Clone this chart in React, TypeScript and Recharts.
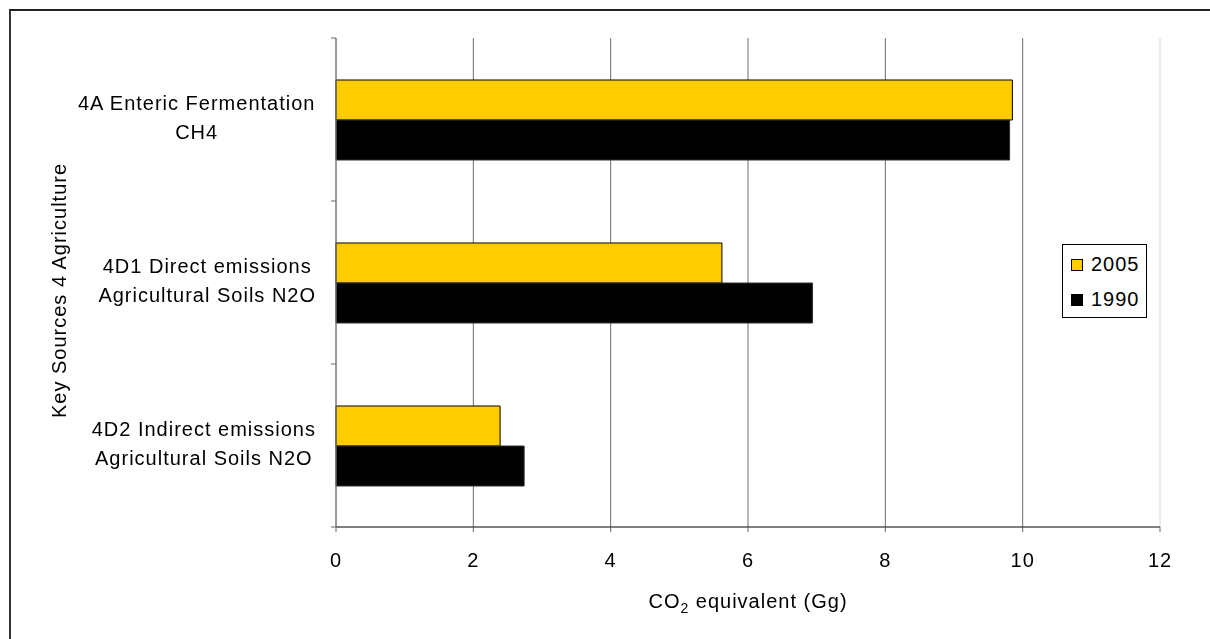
import { BarChart, Bar, XAxis, YAxis, CartesianGrid } from 'recharts';

// categories, top to bottom
const categories = ['4A', '4D1', '4D2'];
const categoryLines = [
    ['4A Enteric Fermentation', 'CH4'],
    ['4D1 Direct emissions', 'Agricultural Soils N2O'],
    ['4D2 Indirect emissions', 'Agricultural Soils N2O'],
];

// CO2 equivalent (Gg)
const values2005 = [9.85, 5.62, 2.39];
const values1990 = [9.81, 6.94, 2.74];

const xTicks = [0, 2, 4, 6, 8, 10, 12];

const seriesNames = ['2005', '1990'];
const seriesColors = ['#FFCC00', '#000000'];

const FONT = '"Liberation Sans", Arial, sans-serif';
const FONT_SIZE = 20;
const LS = 1;

const CHART_W = 1194;
const CHART_H = 623;
const Y_AXIS_W = 328;
const X_AXIS_H = 104;
const MARGIN = { top: 30, right: 42, bottom: 0, left: 0 };

const data = categories.map((c, i) => ({
    key: c,
    y2005: values2005[i],
    y1990: values1990[i],
}));

let measureCtx: CanvasRenderingContext2D | null = null;
function textWidth(s: string): number {
    if (!measureCtx) {
        measureCtx = document.createElement('canvas').getContext('2d');
    }
    if (!measureCtx) return s.length * FONT_SIZE * 0.55;
    measureCtx.font = `${FONT_SIZE}px "Liberation Sans"`;
    return measureCtx.measureText(s).width + s.length * LS;
}

function CategoryTick(props: any) {
    const { y, payload, index } = props;
    const axisX = MARGIN.left + Y_AXIS_W;
    const lines: string[] = categoryLines[index] ?? [String(payload.value)];
    const blockW = Math.max(...lines.map(textWidth));
    const cx = axisX - 20 - blockW / 2;
    const half = payload.offset ?? (CHART_H - MARGIN.top - X_AXIS_H) / categories.length / 2;
    const isLast = index === categories.length - 1;
    return (
        <g>
            <line x1={axisX - 5} x2={axisX} y1={y - half} y2={y - half} stroke="#666" />
            {isLast && <line x1={axisX - 5} x2={axisX} y1={y + half} y2={y + half} stroke="#666" />}
            {lines.map((l, i) => (
                <text
                    key={i}
                    x={cx}
                    y={y - 10 + i * 29}
                    textAnchor="middle"
                    fontFamily={FONT}
                    fontSize={FONT_SIZE}
                    letterSpacing={LS}
                    fill="#000"
                >
                    {l}
                </text>
            ))}
        </g>
    );
}

function XTitle(props: any) {
    const vb = props.viewBox;
    return (
        <text
            x={vb.x + vb.width / 2}
            y={vb.y + 81}
            textAnchor="middle"
            fontFamily={FONT}
            fontSize={FONT_SIZE}
            letterSpacing={LS}
            fill="#000"
        >
            CO
            <tspan dy={5} fontSize={14}>2</tspan>
            <tspan dy={-5}> equivalent (Gg)</tspan>
        </text>
    );
}

function YTitle(props: any) {
    const vb = props.viewBox;
    const x = 58;
    const y = vb.y + vb.height / 2 + 8;
    return (
        <text
            x={x}
            y={y}
            transform={`rotate(-90, ${x}, ${y})`}
            textAnchor="middle"
            fontFamily={FONT}
            fontSize={FONT_SIZE}
            letterSpacing={LS}
            fill="#000"
        >
            Key Sources 4 Agriculture
        </text>
    );
}

function GridLine(props: any) {
    const last = props.index === xTicks.length - 1;
    return (
        <line
            key={`v-${props.index}`}
            x1={props.x1}
            y1={props.y1}
            x2={props.x2}
            y2={props.y2}
            stroke={last ? '#d9d9d9' : '#6e6e6e'}
            strokeWidth={1}
        />
    );
}

export default function App() {
    return (
        <div style={{ position: 'relative', width: CHART_W, height: CHART_H }}>
            <div
                style={{
                    position: 'fixed',
                    left: 9,
                    top: 9,
                    right: -50,
                    bottom: -50,
                    borderLeft: '2px solid #333',
                    borderTop: '2px solid #222',
                    pointerEvents: 'none',
                }}
            />
            <BarChart
                width={CHART_W}
                height={CHART_H}
                data={data}
                layout="vertical"
                margin={MARGIN}
                barGap={0}
                barSize={40}
            >
                <CartesianGrid horizontal={false} vertical={GridLine} />
                <XAxis
                    type="number"
                    domain={[0, 12]}
                    ticks={xTicks}
                    interval={0}
                    height={X_AXIS_H}
                    axisLine={{ stroke: '#000' }}
                    tickLine={{ stroke: '#666' }}
                    tickSize={5}
                    tickMargin={21}
                    tick={{ fill: '#000', fontFamily: FONT, fontSize: FONT_SIZE, letterSpacing: LS }}
                    label={XTitle}
                />
                <YAxis
                    type="category"
                    dataKey="key"
                    width={Y_AXIS_W}
                    axisLine={{ stroke: '#808080' }}
                    tickLine={false}
                    tick={CategoryTick}
                    interval={0}
                    label={YTitle}
                />
                <Bar
                    dataKey="y2005"
                    name={seriesNames[0]}
                    fill={seriesColors[0]}
                    stroke="#000"
                    strokeWidth={1}
                    isAnimationActive={false}
                />
                <Bar
                    dataKey="y1990"
                    name={seriesNames[1]}
                    fill={seriesColors[1]}
                    stroke="#333"
                    strokeWidth={1}
                    isAnimationActive={false}
                />
            </BarChart>
            <div
                style={{
                    position: 'absolute',
                    left: 1054,
                    top: 236,
                    width: 85,
                    height: 74,
                    boxSizing: 'border-box',
                    border: '1px solid #000',
                    background: '#fff',
                    paddingTop: 2,
                    fontFamily: FONT,
                    fontSize: FONT_SIZE,
                    letterSpacing: LS,
                }}
            >
                {seriesNames.map((n, i) => (
                    <div key={n} style={{ height: 35, display: 'flex', alignItems: 'center' }}>
                        <span
                            style={{
                                display: 'inline-block',
                                boxSizing: 'border-box',
                                width: 12,
                                height: 12,
                                marginLeft: 8,
                                marginRight: 8,
                                background: seriesColors[i],
                                border: '1px solid #000',
                            }}
                        />
                        <span>{n}</span>
                    </div>
                ))}
            </div>
        </div>
    );
}
